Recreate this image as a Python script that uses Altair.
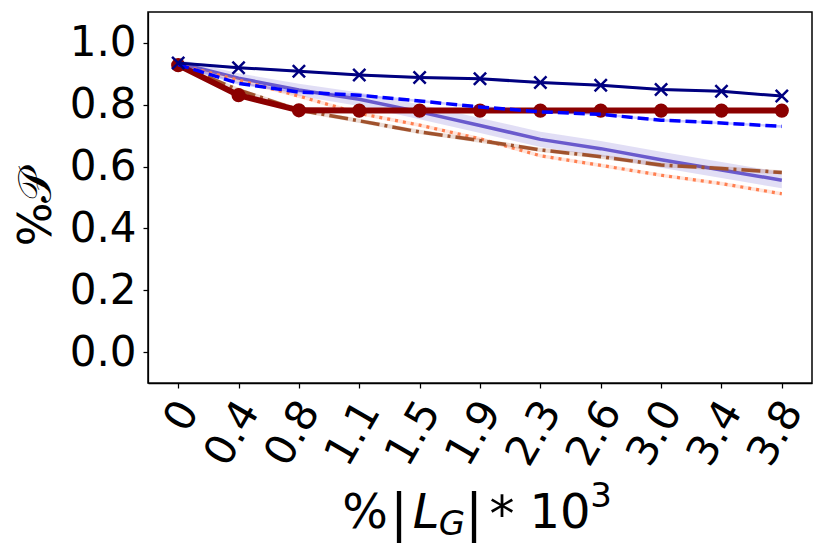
import altair as alt
import pandas as pd

# ---------------- data ----------------
x_labels = ["0", "0.4", "0.8", "1.1", "1.5", "1.9", "2.3", "2.6", "3.0", "3.4", "3.8"]

navy_vals   = [0.935, 0.920, 0.908, 0.896, 0.888, 0.884, 0.872, 0.863, 0.849, 0.844, 0.828]
blue_vals   = [0.930, 0.869, 0.841, 0.831, 0.812, 0.793, 0.777, 0.769, 0.750, 0.741, 0.730]
slate_vals  = [0.935, 0.886, 0.848, 0.818, 0.777, 0.733, 0.688, 0.658, 0.622, 0.589, 0.556]
coral_vals  = [0.930, 0.880, 0.828, 0.772, 0.734, 0.690, 0.635, 0.604, 0.572, 0.545, 0.512]
sienna_vals = [0.930, 0.848, 0.783, 0.748, 0.712, 0.684, 0.654, 0.632, 0.605, 0.594, 0.581]
red_vals    = [0.928, 0.831, 0.782, 0.781, 0.781, 0.781, 0.781, 0.781, 0.781, 0.781, 0.781]

# half-width of the shaded bands
navy_spread   = [0.004, 0.004, 0.004, 0.004, 0.004, 0.004, 0.004, 0.004, 0.004, 0.004, 0.004]
blue_spread   = [0.004, 0.004, 0.004, 0.004, 0.004, 0.004, 0.004, 0.004, 0.004, 0.004, 0.004]
slate_spread  = [0.012, 0.016, 0.020, 0.022, 0.024, 0.024, 0.025, 0.025, 0.026, 0.026, 0.026]
coral_spread  = [0.005, 0.006, 0.006, 0.006, 0.006, 0.006, 0.006, 0.006, 0.006, 0.006, 0.006]
sienna_spread = [0.006, 0.007, 0.007, 0.007, 0.007, 0.007, 0.007, 0.007, 0.007, 0.007, 0.007]
red_spread    = [0.0, 0.0, 0.0, 0.0, 0.0, 0.0, 0.0, 0.0, 0.0, 0.0, 0.0]

y_ticks = [0.0, 0.2, 0.4, 0.6, 0.8, 1.0]

series = [
    # name, values, spread, color, width, dash, marker
    ("slate", slate_vals, slate_spread, "#6a5acd", 3.5, None, None),
    ("coral", coral_vals, coral_spread, "#ff7f50", 3.2, [3, 5], None),
    ("sienna", sienna_vals, sienna_spread, "#a0522d", 3.5, [19, 5, 3, 5], None),
    ("red", red_vals, red_spread, "#8b0000", 6, None, "circle"),
    ("blue", blue_vals, blue_spread, "#0000ff", 3.5, [11, 5], None),
    ("navy", navy_vals, navy_spread, "#000080", 3, None, "x"),
]

W, H = 664, 371
FONT = "DejaVu Sans"

xenc = alt.X("x:O", sort=x_labels,
             scale=alt.Scale(type="point", padding=0.5),
             axis=alt.Axis(title=None, labelAngle=300, labelAlign="right",
                           labelBaseline="middle", labelOffset=10, labelPadding=16,
                           labelFontSize=42, labelFont=FONT, labelColor="black",
                           tickSize=5, tickColor="black", tickWidth=1.25,
                           domainColor="black", domainWidth=1.25, grid=False))
yscale = alt.Scale(domain=[-0.1, 1.1], nice=False, zero=False)
yaxis = alt.Axis(title=None, values=y_ticks, format=".1f", labelFontSize=42,
                 labelFont=FONT, labelColor="black", labelPadding=7,
                 tickSize=5, tickColor="black", tickWidth=1.25,
                 domainColor="black", domainWidth=1.25, grid=False)

layers = []
for name, vals, spread, color, width, dash, marker in series:
    df = pd.DataFrame({
        "x": x_labels,
        "v": vals,
        "lo": [v - s for v, s in zip(vals, spread)],
        "hi": [v + s for v, s in zip(vals, spread)],
    })
    base = alt.Chart(df)
    if max(spread) > 0:
        layers.append(base.mark_area(color=color, opacity=0.2).encode(
            x=xenc, y=alt.Y("lo:Q", scale=yscale, axis=yaxis), y2="hi:Q"))
    lkw = dict(color=color, strokeWidth=width)
    if dash:
        lkw["strokeDash"] = dash
    layers.append(base.mark_line(**lkw).encode(
        x=xenc, y=alt.Y("v:Q", scale=yscale, axis=yaxis)))
    if marker == "circle":
        layers.append(base.mark_point(shape="circle", filled=True, color=color,
                                      size=200, opacity=1).encode(
            x=xenc, y=alt.Y("v:Q", scale=yscale, axis=yaxis)))
    elif marker == "x":
        layers.append(base.mark_point(shape="M-1,-1L1,1M-1,1L1,-1", filled=False,
                                      color=color, strokeWidth=2.5, size=150,
                                      opacity=1).encode(
            x=xenc, y=alt.Y("v:Q", scale=yscale, axis=yaxis)))

# ---------------- axis titles as text pieces ----------------
def txt(s, px, py, size=48, style="normal", angle=0, align="center"):
    kw = dict(text=s, font=FONT, fontSize=size, fontStyle=style, color="black",
              align=align, baseline="alphabetic")
    if angle:
        kw["angle"] = angle
    return alt.Chart(pd.DataFrame({"d": [0]})).mark_text(**kw).encode(
        x=alt.value(px), y=alt.value(py))

x_title_parts = [
    ("%", 217, 516, 48, "normal"),
    ("|", 251, 518, 52, "normal"),
    ("L", 278, 516, 48, "italic"),
    ("G", 304, 523, 34, "italic"),
    ("|", 326, 518, 52, "normal"),
    ("*", 354, 519, 50, "normal"),
    ("10", 412, 516, 48, "normal"),
    ("3", 453, 495, 34, "normal"),
]
for s, px, py, sz, st in x_title_parts:
    layers.append(txt(s, px, py, sz, st))

layers.append(txt("%\U0001D4AB", -97, 196, 46, "normal", angle=270))

chart = alt.layer(*layers).properties(
    width=W, height=H,
    autosize=alt.AutoSizeParams(type="none"),
    padding={"left": 140, "top": 4, "right": 11, "bottom": 164},
    background="white",
).configure_view(stroke="black", strokeWidth=1.5, strokeOpacity=1)

chart.save("out.html", embed_options={"renderer": "svg", "actions": False})
